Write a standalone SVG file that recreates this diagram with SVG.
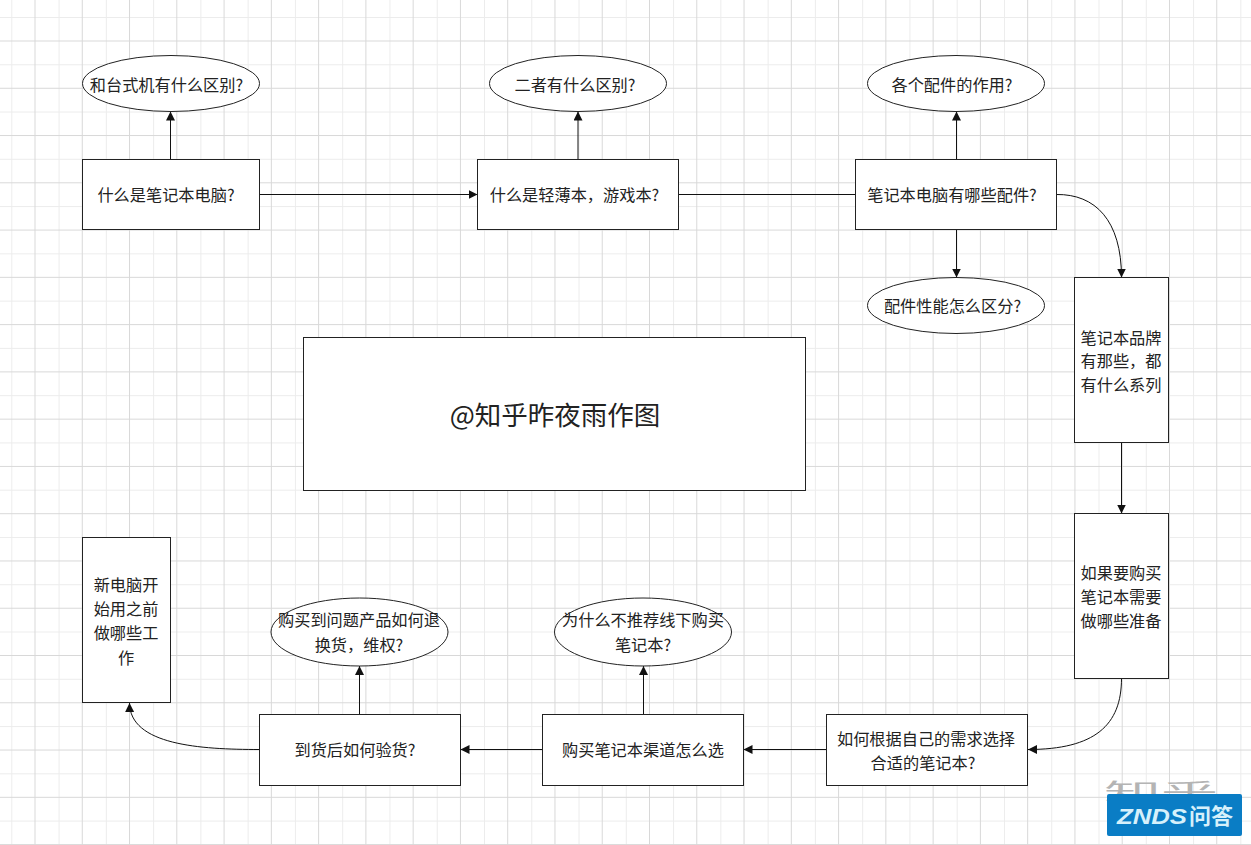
<svg xmlns="http://www.w3.org/2000/svg" width="1251" height="845" viewBox="0 0 1251 845">
<defs>
<style>
.n{fill:#fff;stroke:#222;stroke-width:1}
.c{fill:none;stroke:#111;stroke-width:1;marker-end:url(#a)}
.p{fill:none;stroke:#111;stroke-width:1}
.t{font-family:"Noto Sans CJK SC","Liberation Sans",sans-serif;font-size:16.2px;fill:#222;text-anchor:middle}
.gl{stroke:#ececec;stroke-width:1;fill:none}
.gd{stroke:#d8d8d8;stroke-width:1;fill:none}
</style>
<marker id="a" viewBox="0 0 9 9" refX="9" refY="4.5" markerWidth="9" markerHeight="9" markerUnits="userSpaceOnUse" orient="auto"><path d="M0 0L9 4.5L0 9Z" fill="#111"/></marker>
<pattern id="gridL" width="47.27" height="47.27" patternUnits="userSpaceOnUse" x="11.300" y="17"><path d="M0.500 0V47.270M0 0.500H47.270" class="gl"/></pattern>
<pattern id="gridD" width="47.27" height="47.27" patternUnits="userSpaceOnUse" x="34.500" y="40.500"><path d="M0.500 0V47.270M0 0.500H47.270" class="gd"/></pattern>
</defs>
<rect width="1251" height="845" fill="#fff"/>
<rect width="1251" height="845" fill="url(#gridL)"/>
<rect width="1251" height="845" fill="url(#gridD)"/>
<text x="1104" y="799" font-family="'Noto Sans CJK SC',sans-serif" font-size="22" fill="#b4b4b4" textLength="114" lengthAdjust="spacingAndGlyphs">知乎</text>
<g id="connectors">
<path class="c" d="M170.500 159V111.500"/>
<path class="c" d="M259.500 194.500H477.500"/>
<path class="c" d="M578 159V111.500"/>
<path class="p" d="M678.500 194.500H855.500"/>
<path class="c" d="M956.500 159V111.500"/>
<path class="c" d="M956.500 229.500V277.500"/>
<path class="c" d="M1056.500 194.500C1095 194 1121.500 220 1121.500 277.500"/>
<path class="c" d="M1121.500 442.500V513.500"/>
<path class="c" d="M1121.500 678.500C1121.500 725 1095 749.500 1028 749.500"/>
<path class="c" d="M827 749.500H743.500"/>
<path class="c" d="M543 749.500H460.500"/>
<path class="c" d="M643.500 714V666"/>
<path class="c" d="M359.500 714V666"/>
<path class="c" d="M259.500 749.500C200 749.500 130 745 129.500 703"/>
</g>
<g id="n1"><rect class="n" x="82.500" y="159.500" width="177" height="70"/><text class="t" x="166" y="201">什么是笔记本电脑?</text></g>
<g id="n2"><ellipse class="n" cx="171" cy="83.500" rx="88.500" ry="28"/><text class="t" x="166.500" y="91">和台式机有什么区别?</text></g>
<g id="n3"><rect class="n" x="477.500" y="159.500" width="201" height="70"/><text class="t" x="574.500" y="201">什么是轻薄本，游戏本?</text></g>
<g id="n4"><ellipse class="n" cx="578" cy="83.500" rx="88.500" ry="28"/><text class="t" x="575" y="91">二者有什么区别?</text></g>
<g id="n5"><rect class="n" x="855.500" y="159.500" width="201" height="70"/><text class="t" x="952" y="201">笔记本电脑有哪些配件?</text></g>
<g id="n6"><ellipse class="n" cx="956" cy="83.500" rx="88.500" ry="28"/><text class="t" x="952" y="91">各个配件的作用?</text></g>
<g id="n7"><ellipse class="n" cx="956" cy="305.500" rx="88.500" ry="28"/><text class="t" x="952.500" y="312">配件性能怎么区分?</text></g>
<g id="n8"><rect class="n" x="1074.500" y="277.500" width="94" height="165"/><text class="t" x="1121" y="344">笔记本品牌</text><text class="t" x="1121" y="367">有那些，都</text><text class="t" x="1121" y="391">有什么系列</text></g>
<g id="n9"><rect class="n" x="1074.500" y="513.500" width="94" height="165"/><text class="t" x="1121" y="579">如果要购买</text><text class="t" x="1121" y="603">笔记本需要</text><text class="t" x="1121" y="627">做哪些准备</text></g>
<g id="n10"><rect class="n" x="826.500" y="714.500" width="201" height="71"/><text class="t" x="926" y="745">如何根据自己的需求选择</text><text class="t" x="923" y="769">合适的笔记本?</text></g>
<g id="n11"><rect class="n" x="542.500" y="714.500" width="201" height="71"/><text class="t" x="643" y="756">购买笔记本渠道怎么选</text></g>
<g id="n12"><ellipse class="n" cx="643" cy="632" rx="88.500" ry="34"/><text class="t" x="643" y="626">为什么不推荐线下购买</text><text class="t" x="643" y="651">笔记本?</text></g>
<g id="n13"><rect class="n" x="259.500" y="714.500" width="201" height="71"/><text class="t" x="355" y="756">到货后如何验货?</text></g>
<g id="n14"><ellipse class="n" cx="359.500" cy="632" rx="88.500" ry="34"/><text class="t" x="359" y="626">购买到问题产品如何退</text><text class="t" x="359" y="651">换货，维权?</text></g>
<g id="n15"><rect class="n" x="82.500" y="537.500" width="88" height="165"/><text class="t" x="126" y="591">新电脑开</text><text class="t" x="126" y="615">始用之前</text><text class="t" x="126" y="639">做哪些工</text><text class="t" x="126" y="664">作</text></g>
<g id="n16"><rect class="n" x="303.500" y="337.500" width="502" height="153"/><text x="555" y="425" font-family="'Noto Sans CJK SC','Liberation Sans',sans-serif" font-size="26.500" fill="#222" text-anchor="middle">@知乎昨夜雨作图</text></g>
<g id="logo">
<rect x="1107" y="794" width="135" height="42" rx="2" fill="#0a7dc5"/>
<text x="1117" y="824" font-family="'Liberation Sans',sans-serif" font-size="22" font-weight="bold" font-style="italic" fill="#d6f0fb" textLength="70" lengthAdjust="spacingAndGlyphs">ZNDS</text>
<text x="1189" y="824" font-family="'Noto Sans CJK SC',sans-serif" font-size="22" font-weight="bold" fill="#d6f0fb" textLength="44" lengthAdjust="spacingAndGlyphs">问答</text>
</g>
</svg>
